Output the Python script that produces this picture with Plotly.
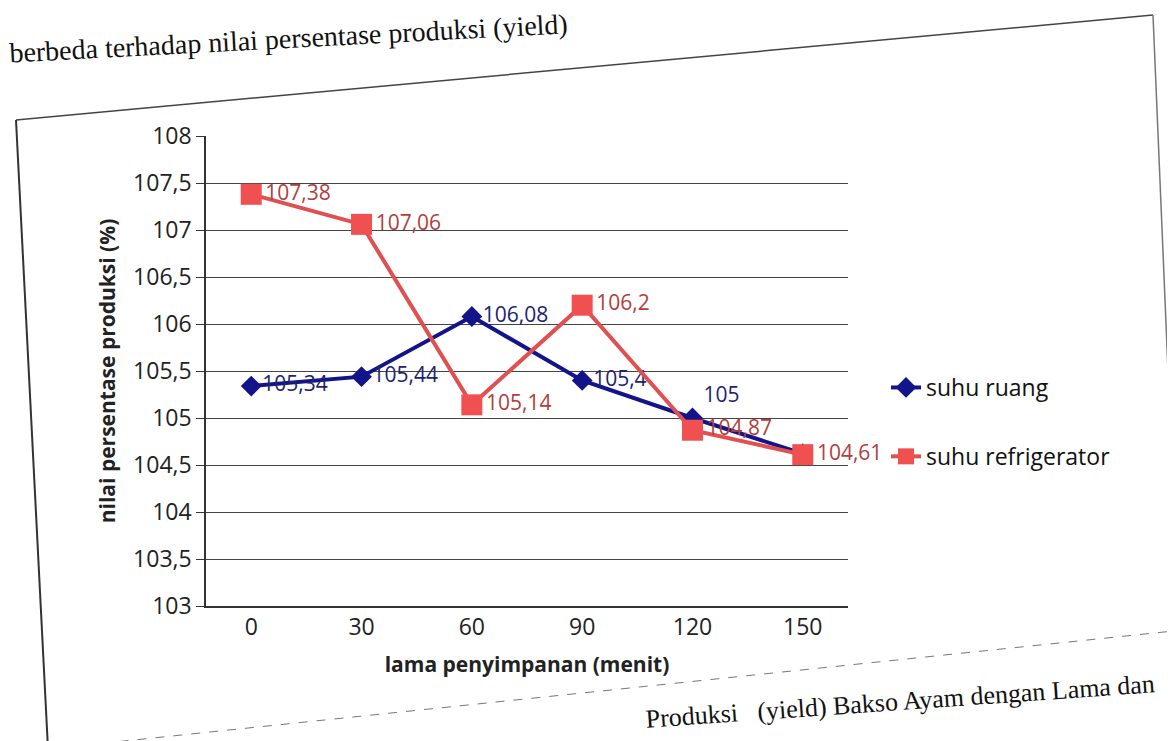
import plotly.graph_objects as go

# ---- data ----
minutes = ["0", "30", "60", "90", "120", "150"]
suhu_ruang = [105.34, 105.44, 106.08, 105.4, 105.0, 104.62]
suhu_refrigerator = [107.38, 107.06, 105.14, 106.2, 104.87, 104.61]
# the label of the last "suhu ruang" point is hidden under the red marker in the reference
ruang_label_shown = [True, True, True, True, True, False]
y_ticks = [103, 103.5, 104, 104.5, 105, 105.5, 106, 106.5, 107, 107.5, 108]

W, H = 1175, 741
L, R, T, B = 198, 840, 128, 598


def px(x):
    return (x - L) / (R - L)


def py(y):
    return (B - y) / (B - T)


def fmt(v):
    return f"{v:g}".replace(".", ",")


font = "Open Sans, Liberation Sans, sans-serif"
blue = "#14148a"
red = "#f0504f"

fig = go.Figure()
fig.add_trace(go.Scatter(
    x=minutes, y=suhu_ruang, name="suhu ruang", mode="lines+markers+text",
    line=dict(color=blue, width=4),
    marker=dict(symbol="diamond", size=16, color=blue),
    text=[fmt(v) if s else "" for v, s in zip(suhu_ruang, ruang_label_shown)],
    textposition=["middle right", "middle right", "middle right", "middle right", "top right", "middle right"],
    textfont=dict(family=font, size=21, color="#1c2470"),
    cliponaxis=False,
    legendgroup="a",
))
fig.add_trace(go.Scatter(
    x=minutes, y=suhu_refrigerator, name="suhu refrigerator", mode="lines+markers+text",
    line=dict(color="#e05050", width=4),
    marker=dict(symbol="square", size=21, color=red),
    text=[fmt(v) for v in suhu_refrigerator],
    textposition="middle right",
    textfont=dict(family=font, size=21, color="#b0403c"),
    cliponaxis=False,
    legendgroup="b",
))

shapes = [
    # scanned page frame
    dict(type="line", xref="paper", yref="paper", x0=px(8), y0=py(112), x1=px(1145), y1=py(7),
         line=dict(color="#444", width=1.5)),
    dict(type="line", xref="paper", yref="paper", x0=px(1145), y0=py(7), x1=px(1170), y1=py(600),
         line=dict(color="#777", width=1.5)),
    dict(type="line", xref="paper", yref="paper", x0=px(8), y0=py(112), x1=px(40), y1=py(741),
         line=dict(color="#333", width=2)),
    dict(type="line", xref="paper", yref="paper", x0=px(40), y0=py(741), x1=px(1175), y1=py(622),
         line=dict(color="#777", width=1, dash="dash")),
]

annotations = [
    dict(text="berbeda terhadap nilai persentase produksi (yield)", xref="paper", yref="paper",
         x=px(-2), y=py(30), xanchor="left", yanchor="middle", showarrow=False, textangle=-3,
         font=dict(family="Liberation Serif, serif", size=28, color="#111")),
    dict(text="Produksi   (yield) Bakso Ayam dengan Lama dan", xref="paper", yref="paper",
         x=px(1150), y=py(693), xanchor="right", yanchor="middle", showarrow=False, textangle=-4,
         font=dict(family="Liberation Serif, serif", size=26, color="#111")),
]

fig.update_layout(
    width=W, height=H,
    margin=dict(l=L, r=W - R, t=T, b=H - B, autoexpand=False),
    paper_bgcolor="white", plot_bgcolor="white",
    separators=",.",
    font=dict(family=font, size=22, color="#222"),
    showlegend=True,
    legend=dict(x=px(878), y=py(358), xanchor="left", yanchor="top",
                font=dict(family=font, size=23, color="#111"),
                tracegroupgap=36, bgcolor="rgba(0,0,0,0)"),
    shapes=shapes,
    annotations=annotations,
    xaxis=dict(
        type="category", showgrid=False, showline=True, linecolor="#333", linewidth=1.5,
        ticks="", tickfont=dict(family=font, size=23, color="#222"),
        title=dict(text="<b>lama penyimpanan (menit)</b>", font=dict(family=font, size=21, color="#222"),
                   standoff=16),
    ),
    yaxis=dict(
        range=[103, 108], tickvals=y_ticks, tickformat=".1~f",
        showgrid=True, gridcolor="#444", gridwidth=1,
        showline=True, linecolor="#333", linewidth=1.5,
        ticks="outside", ticklen=8, tickcolor="#333",
        tickfont=dict(family=font, size=23, color="#222"),
        title=dict(text="<b>nilai persentase produksi (%)</b>", font=dict(family=font, size=21, color="#222"),
                   standoff=12),
        zeroline=False,
    ),
)

fig.write_html("out.html")
